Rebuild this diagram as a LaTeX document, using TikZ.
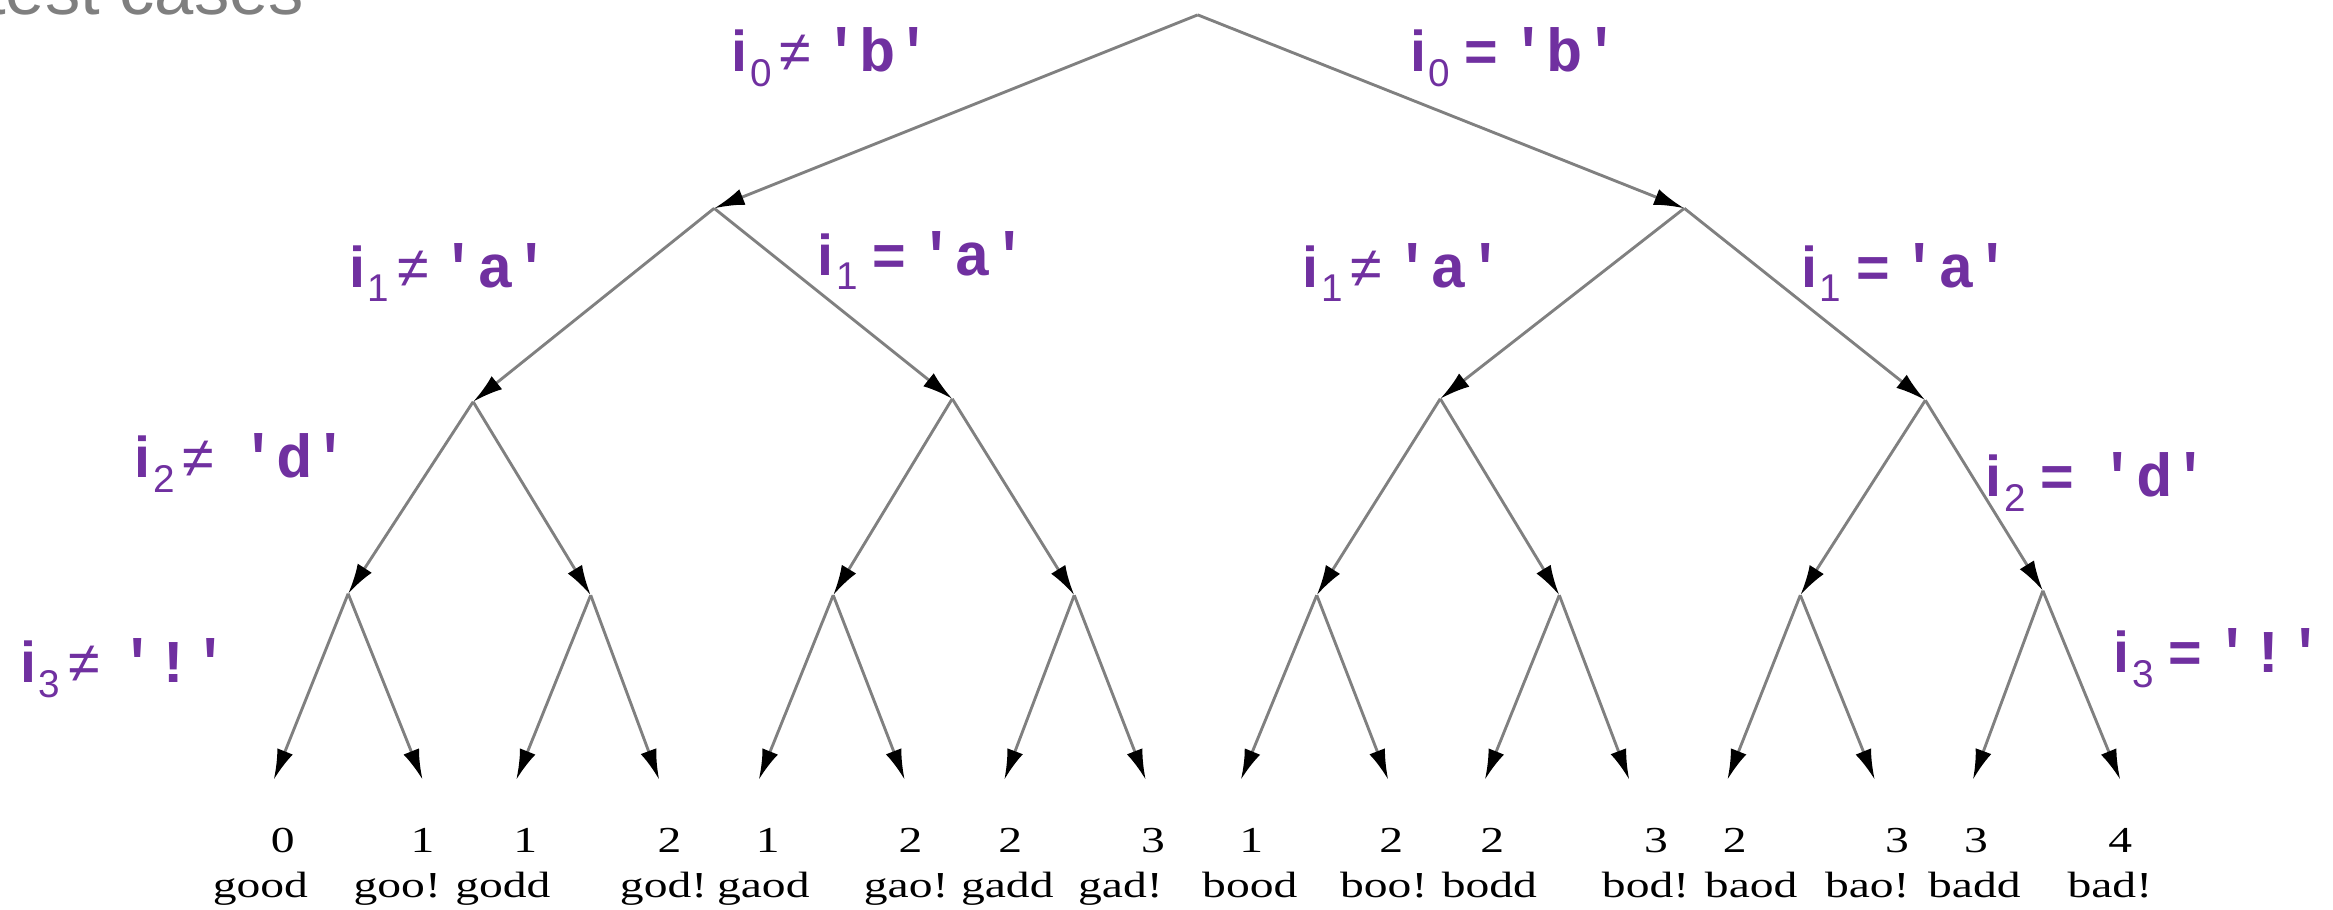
\documentclass[tikz,border=0pt]{standalone}
\usepackage{graphicx}
\usepackage{fontspec}
\setmainfont{Liberation Serif}
\setsansfont{Liberation Sans}
\setmonofont{Liberation Mono}
\usetikzlibrary{arrows.meta}

\definecolor{condpurple}{HTML}{7030A0}
\definecolor{slidegray}{HTML}{7F7F7F}

% condition label: index, operator, extra gap, character
\newcommand{\cnd}[4]{%
  {\bfseries i}\hspace{0.5pt}\raisebox{-2.8pt}{\fontsize{7.4}{8}\selectfont #1}%
  #2\hspace{\dimexpr 2.3pt+#3\relax}%
  {\fontsize{11.6}{13}\selectfont\ttfamily\bfseries '#4'}}
\newcommand{\neop}{\hspace{1.5pt}≠}
\newcommand{\eqop}{\hspace{2.8pt}{\bfseries =}}
% the scanned leaf text is wider than it is tall
\newcommand{\stretchx}[1]{\scalebox{1.3}[1]{#1}}

\begin{document}
\begin{tikzpicture}[x=0.1mm, y=-0.1mm,
    branch/.style={draw=black!50, line width=0.55pt,
                   -{Latex[length=5.8pt, width=3.2pt, black]}},
    cond/.style={anchor=base west, inner sep=0pt, text=condpurple,
                 font=\sffamily\fontsize{11}{13}\selectfont},
    leafnum/.style={anchor=base, inner sep=0pt, font=\fontsize{7}{8}\selectfont},
    leafword/.style={anchor=base, inner sep=0pt, font=\fontsize{7}{8}\selectfont}]

  \useasboundingbox (0,0) rectangle (1568,611);

  % slide title, cut off by the top edge
  \node[anchor=base west, inner sep=0pt, text=slidegray,
        font=\sffamily\fontsize{13.5}{16}\selectfont] (title) at (-10,10) {test cases};

  % decision points
  \coordinate (r)    at (805,10);
  \coordinate (r0)   at (480,140);
  \coordinate (r1)   at (1132,140);
  \coordinate (r00)  at (318,270);
  \coordinate (r01)  at (640,268);
  \coordinate (r10)  at (968,268);
  \coordinate (r11)  at (1294,269);
  \coordinate (r000) at (234,399);
  \coordinate (r001) at (397,400);
  \coordinate (r010) at (560,400);
  \coordinate (r011) at (722,400);
  \coordinate (r100) at (885,400);
  \coordinate (r101) at (1048,400);
  \coordinate (r110) at (1210,400);
  \coordinate (r111) at (1373,397);

  % leaves: arrow end, distance, test input
  \foreach \b/\x/\nx/\num/\wx/\word in {
      0000/184/190/0/175/good, 0001/284/284/1/267/goo!,
      0010/347/353/1/338/godd, 0011/443/450/2/446/god!,
      0100/510/516/1/513/gaod, 0101/608/612/2/609/gao!,
      0110/675/679/2/677/gadd, 0111/770/775/3/753/gad!,
      1000/834/841/1/840/bood, 1001/933/935/2/930/boo!,
      1010/998/1003/2/1001/bodd, 1011/1095/1113/3/1106/bod!,
      1100/1161/1166/2/1177/baod, 1101/1260/1275/3/1255/bao!,
      1110/1326/1328/3/1327/badd, 1111/1425/1425/4/1418/bad!}{
    \coordinate (r\b) at (\x,524);
    \node[leafnum]  (n\b) at (\nx,573) {\stretchx{\num}};
    \node[leafword] (w\b) at (\wx,603) {\stretchx{\word}};
  }

  % branches
  \foreach \p in {r,r0,r1,r00,r01,r10,r11,
                  r000,r001,r010,r011,r100,r101,r110,r111}{
    \draw[branch] (\p) -- (\p0);
    \draw[branch] (\p) -- (\p1);
  }

  % conditions on the branches
  \node[cond] (ne0)  at (491,48)   {\cnd{0}{\neop}{0pt}{b}};
  \node[cond] (eq0)  at (947,48)   {\cnd{0}{\eqop}{0pt}{b}};
  \node[cond] (ne1a) at (234,193)  {\cnd{1}{\neop}{0pt}{a}};
  \node[cond] (eq1a) at (549,185)  {\cnd{1}{\eqop}{0pt}{a}};
  \node[cond] (ne1b) at (875,193)  {\cnd{1}{\neop}{0pt}{a}};
  \node[cond] (eq1b) at (1210,193) {\cnd{1}{\eqop}{0pt}{a}};
  \node[cond] (ne2)  at (90,321)   {\cnd{2}{\neop}{2.6pt}{d}};
  \node[cond] (eq2)  at (1334,334) {\cnd{2}{\eqop}{2.6pt}{d}};
  \node[cond] (ne3)  at (13,459)   {\cnd{3}{\neop}{1.4pt}{!}};
  \node[cond] (eq3)  at (1420,452) {\cnd{3}{\eqop}{0pt}{!}};
\end{tikzpicture}
\end{document}
